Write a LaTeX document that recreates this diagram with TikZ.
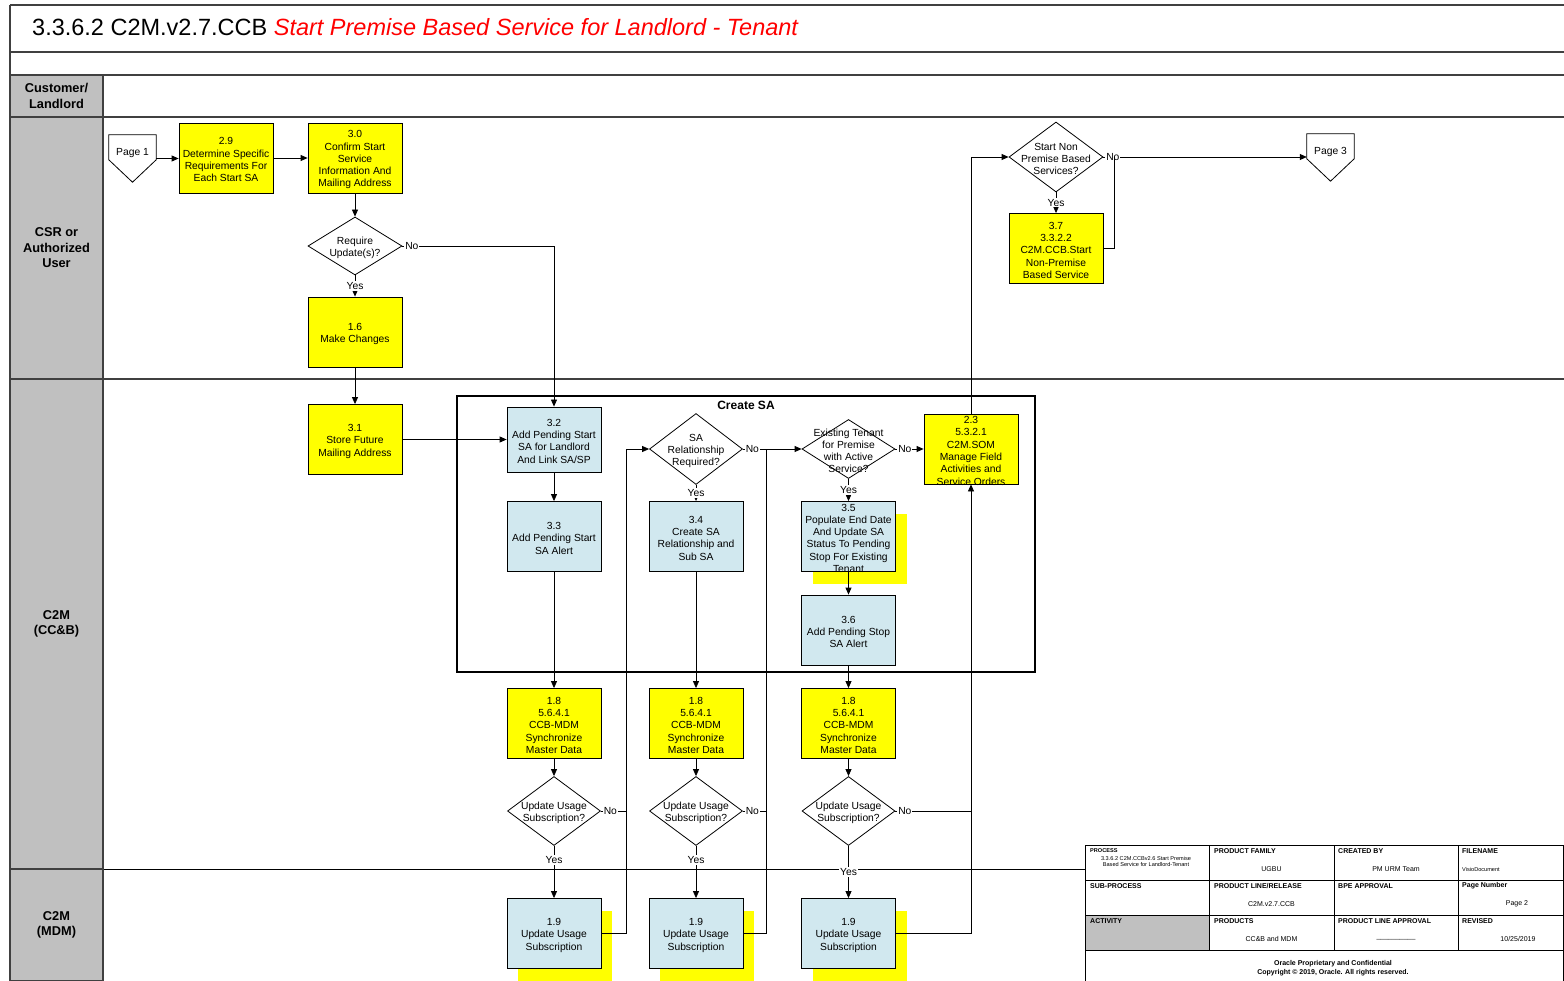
\documentclass[tikz,border=0pt]{standalone}
\usepackage{fontspec}
\setmainfont{Liberation Sans}
\usetikzlibrary{shapes.geometric,arrows.meta,shadows}

\definecolor{procyellow}{RGB}{255,255,0}
\definecolor{sysblue}{RGB}{209,232,239}
\definecolor{lanegray}{RGB}{192,192,192}
\definecolor{frameline}{RGB}{64,64,64}

\newcommand\boxfont{\fontsize{10.3}{12.3}\selectfont}
\newcommand\lanefont{\fontsize{12.8}{15.5}\selectfont\bfseries}

\tikzset{
  every node/.style={font=\boxfont},
  task/.style={rectangle, draw=black, line width=0.8pt, minimum width=94pt, minimum height=70pt, inner sep=0pt},
  ytask/.style={task, fill=procyellow},
  btask/.style={task, fill=sysblue},
  shadowed/.style={drop shadow={shadow xshift=11pt, shadow yshift=-12pt, fill=procyellow, opacity=1, draw=none}},
  txt/.style={label={[align=center, font=\boxfont, inner sep=0pt, yshift=-1.8pt]center:#1}},
  decision/.style={diamond, draw=black, line width=0.8pt, fill=white, inner sep=0pt, minimum width=94pt, minimum height=70pt},
  offpage/.style={rectangle, minimum width=47pt, minimum height=47pt, inner sep=0pt, text height=7pt, text depth=13pt},
  flow/.style={draw=black, line width=0.8pt},
  arr/.style={flow, -{Triangle[length=7pt,width=6pt]}},
  yn/.style={fill=white, inner sep=1pt, font=\boxfont},
  noafter/.style={yn, anchor=west, xshift=1.5pt},
  lanehdr/.style={rectangle, draw=frameline, line width=1.5pt, fill=lanegray, minimum width=93pt, inner sep=0pt, align=center, font=\lanefont},
  lanerule/.style={draw=frameline, line width=1.5pt},
  tbl/.style={draw=black, line width=0.7pt},
  tlab/.style={anchor=west, inner sep=0pt, font=\fontsize{7}{8}\selectfont\bfseries},
  tval/.style={inner sep=0pt, font=\fontsize{7}{8}\selectfont},
}

\begin{document}
\begin{tikzpicture}[x=1pt,y=-1pt]
\useasboundingbox (0,0) rectangle (1564,981);

% ---------- title block and swimlanes ----------
\draw[lanerule] (10,5) -- (1564,5);
\draw[lanerule] (10,52) -- (1564,52);
\draw[lanerule] (10,75) -- (1564,75);
\draw[lanerule] (10,117) -- (1564,117);
\draw[lanerule] (10,379) -- (1564,379);
\draw[draw=black, line width=1pt] (10,869) -- (1085,869);
\draw[lanerule] (10,5) -- (10,981);

\node[anchor=base west, inner sep=0pt, font=\fontsize{23.5}{27}\selectfont] (title) at (32,36)
  {3.3.6.2 C2M.v2.7.CCB \textcolor{red}{\itshape Start Premise Based Service for Landlord - Tenant}};

\node[lanehdr, minimum height=42pt]  (laneCust) at (56.5,96)  {Customer/\\Landlord};
\node[lanehdr, minimum height=262pt] (laneCSR)  at (56.5,248) {CSR or\\Authorized\\User};
\node[lanehdr, minimum height=490pt] (laneCCB)  at (56.5,624) {C2M\\(CC\&B)};
\node[lanehdr, minimum height=112pt] (laneMDM)  at (56.5,925) {C2M\\(MDM)};

% ---------- Create SA group ----------
\node[draw=black, line width=1.5pt, minimum width=578pt, minimum height=276pt, inner sep=0pt,
      label={[font=\fontsize{12}{14}\selectfont\bfseries, anchor=north, yshift=-2.5pt]north:Create SA}] (grpSA) at (746,534) {};

% ---------- CSR lane ----------
\node[offpage] (pg1) at (132.5,158.5) {};
\draw[flow, fill=white] (pg1.north west) -- (pg1.north east) -- ([yshift=-25pt]pg1.north east) -- (pg1.south) -- ([yshift=-25pt]pg1.north west) -- cycle;
\node[offpage] (pg1t) at (pg1) {Page 1};
\node[ytask, txt={2.9\\Determine Specific\\Requirements For\\Each Start SA}] (b29) at (226,158) {};
\node[ytask, txt={3.0\\Confirm Start\\Service\\Information And\\Mailing Address}] (b30) at (355,158) {};
\node[decision, minimum height=58pt, txt={Require\\Update(s)?}] (dReq) at (355,246) {};
\node[ytask, txt={1.6\\Make Changes}] (b16) at (355,332) {};

\node[decision, txt={Start Non\\Premise Based\\Services?}] (dStart) at (1056,157) {};
\node[ytask, txt={3.7\\3.3.2.2\\C2M.CCB.Start\\Non-Premise\\Based Service}] (b37) at (1056,248.5) {};
\node[offpage] (pg3) at (1330.5,157.5) {};
\draw[flow, fill=white] (pg3.north west) -- (pg3.north east) -- ([yshift=-25pt]pg3.north east) -- (pg3.south) -- ([yshift=-25pt]pg3.north west) -- cycle;
\node[offpage] (pg3t) at (pg3) {Page 3};

% ---------- C2M (CC&B) lane ----------
\node[ytask, txt={3.1\\Store Future\\Mailing Address}] (b31) at (355,439.5) {};
\node[btask, minimum height=65pt, txt={3.2\\Add Pending Start\\SA for Landlord\\And Link SA/SP}] (b32) at (554,439.5) {};
\node[btask, txt={3.3\\Add Pending Start\\SA Alert}] (b33) at (554,536.5) {};
\node[decision, minimum width=93pt, minimum height=71pt, txt={SA\\Relationship\\Required?}] (dSA) at (696,449) {};
\node[btask, txt={3.4\\Create SA\\Relationship and\\Sub SA}] (b34) at (696,536.5) {};
\node[decision, minimum width=93pt, minimum height=59pt, txt={Existing Tenant\\for Premise\\with Active\\Service?}] (dEx) at (848.5,449) {};
\node[ytask, txt={2.3\\5.3.2.1\\C2M.SOM\\Manage Field\\Activities and\\Service Orders}] (b23) at (971,449) {};
\node[btask, shadowed, txt={3.5\\Populate End Date\\And Update SA\\Status To Pending\\Stop For Existing\\Tenant}] (b35) at (848.5,536.5) {};
\node[btask, txt={3.6\\Add Pending Stop\\SA Alert}] (b36) at (848.5,630) {};

\node[ytask, txt={1.8\\5.6.4.1\\CCB-MDM\\Synchronize\\Master Data}] (s1) at (554,723.5) {};
\node[ytask, txt={1.8\\5.6.4.1\\CCB-MDM\\Synchronize\\Master Data}] (s2) at (696,723.5) {};
\node[ytask, txt={1.8\\5.6.4.1\\CCB-MDM\\Synchronize\\Master Data}] (s3) at (848.5,723.5) {};

\node[decision, minimum width=93pt, minimum height=69pt, txt={Update Usage\\Subscription?}] (u1) at (554,811) {};
\node[decision, minimum width=93pt, minimum height=69pt, txt={Update Usage\\Subscription?}] (u2) at (696,811) {};
\node[decision, minimum width=93pt, minimum height=69pt, txt={Update Usage\\Subscription?}] (u3) at (848.5,811) {};

% ---------- C2M (MDM) lane ----------
\node[btask, shadowed, txt={1.9\\Update Usage\\Subscription}] (v1) at (554,933.5) {};
\node[btask, shadowed, txt={1.9\\Update Usage\\Subscription}] (v2) at (696,933.5) {};
\node[btask, shadowed, txt={1.9\\Update Usage\\Subscription}] (v3) at (848.5,933.5) {};

% ---------- connectors ----------
\coordinate (j1) at (626,449);
\coordinate (j2) at (766,449);
\coordinate (j4) at (1114,157);

\draw[arr] (pg1.east) -- (pg1.east -| b29.west);
\draw[arr] (b29) -- (b30);
\draw[arr] (b30) -- (dReq);
\draw[arr] (dReq) -- node[yn]{Yes} (b16);
\draw[arr] (dReq.east) node[noafter]{No} -| (b32.north);
\draw[arr] (b16) -- (b31);
\draw[arr] (b31.east) -- (b31.east -| b32.west);
\draw[arr] (b32) -- (b33);
\draw[arr] (b33) -- (s1);
\draw[arr] (s1) -- (u1);
\draw[arr] (u1) -- node[yn, pos=.27]{Yes} (v1);
\draw[arr] (u1.east) node[noafter]{No} -| (j1) -- (dSA.west);
\draw[flow] (v1.east) -| (u1.east -| j1);

\draw[arr] (dSA) -- node[yn]{Yes} (b34);
\draw[arr] (dSA.east) node[noafter]{No} -- (dEx.west);
\draw[arr] (b34) -- (s2);
\draw[arr] (s2) -- (u2);
\draw[arr] (u2) -- node[yn, pos=.27]{Yes} (v2);
\draw[flow] (u2.east) node[noafter]{No} -| (j2);
\draw[flow] (v2.east) -| (u2.east -| j2);

\draw[arr] (dEx.east) node[noafter]{No} -- (b23.west);
\draw[arr] (dEx) -- node[yn]{Yes} (b35);
\draw[arr] (b35) -- (b36);
\draw[arr] (b36) -- (s3);
\draw[arr] (s3) -- (u3);
\draw[arr] (u3) -- node[yn]{Yes} (v3);
\draw[arr] (u3.east) node[noafter]{No} -| (b23.south);
\draw[flow] (v3.east) -| (u3.east -| b23.south);

\draw[arr] (b23.north) |- (dStart.west);
\draw[arr] (dStart.east) node[noafter]{No} -- (pg3.west |- dStart.east);
\draw[arr] (dStart) -- node[yn]{Yes} (b37);
\draw[flow] (b37.east) -| (j4);

% ---------- title block table ----------
\fill[white] (1085,845) rectangle (1564,981);
\fill[lanegray] (1085,915) rectangle (1209,950);
\draw[tbl] (1085,981) -- (1085,845) -- (1564,845);
\draw[tbl] (1085,880) -- (1564,880);
\draw[tbl] (1085,915) -- (1564,915);
\draw[tbl] (1085,950) -- (1564,950);
\draw[tbl] (1209,845) -- (1209,950);
\draw[tbl] (1334,845) -- (1334,950);
\draw[tbl] (1458,845) -- (1458,950);
\draw[tbl] (1563.5,845) -- (1563.5,981);

\node[tlab, font=\fontsize{5.6}{6.5}\selectfont\bfseries] (tProc) at (1090,851) {PROCESS};
\node[tval, align=center, font=\fontsize{5.6}{6.2}\selectfont] (tProcV) at (1146,861.5) {3.3.6.2 C2M.CCBv2.6 Start Premise\\Based Service for Landlord-Tenant};
\node[tlab] (tFam) at (1214,851) {PRODUCT FAMILY};
\node[tval] (tFamV) at (1271.5,869) {UGBU};
\node[tlab] (tBy) at (1338,851) {CREATED BY};
\node[tval] (tByV) at (1396,869) {PM URM Team};
\node[tlab] (tFile) at (1462,851) {FILENAME};
\node[tval, anchor=west, font=\fontsize{5.6}{6.5}\selectfont] (tFileV) at (1462,869) {VisioDocument};

\node[tlab] (tSub) at (1090,886) {SUB-PROCESS};
\node[tlab] (tRel) at (1214,886) {PRODUCT LINE/RELEASE};
\node[tval] (tRelV) at (1271.5,904) {C2M.v2.7.CCB};
\node[tlab] (tBpe) at (1338,886) {BPE APPROVAL};
\node[tlab] (tPage) at (1462,886) {Page Number};
\node[tval] (tPageV) at (1517,904) {Page 2};

\node[tlab] (tAct) at (1090,921) {ACTIVITY};
\node[tlab] (tProd) at (1214,921) {PRODUCTS};
\node[tval] (tProdV) at (1271.5,939) {CC\&B and MDM};
\node[tlab] (tPla) at (1338,921) {PRODUCT LINE APPROVAL};
\node[tval] (tPlaV) at (1396,939) {\_\_\_\_\_\_\_\_\_\_};
\node[tlab] (tRev) at (1462,921) {REVISED};
\node[tval] (tRevV) at (1518,939) {10/25/2019};

\node[tval, align=center, font=\fontsize{7}{9}\selectfont\bfseries] (tConf) at (1333,968)
  {Oracle Proprietary and Confidential\\Copyright \textcopyright{} 2019, Oracle. All rights reserved.};
\end{tikzpicture}
\end{document}
